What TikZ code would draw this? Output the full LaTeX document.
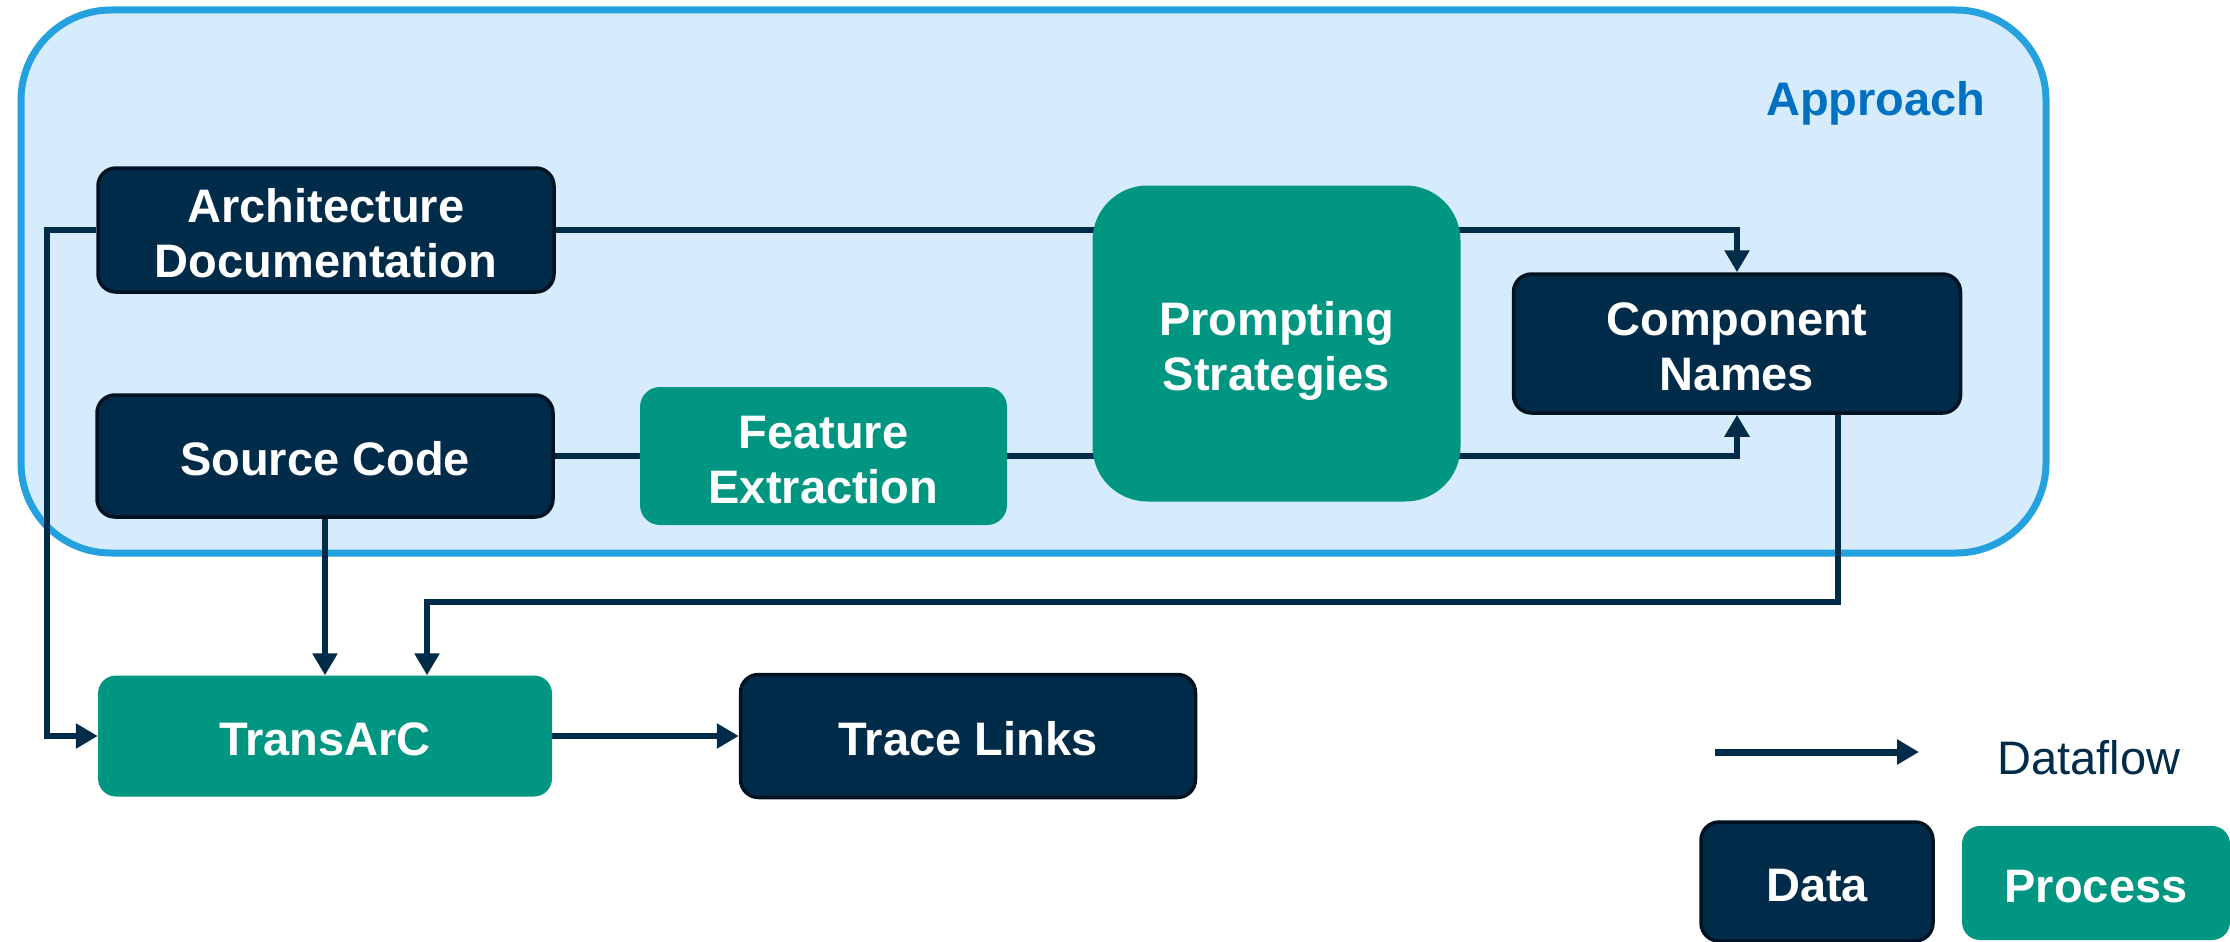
\documentclass[tikz,border=0pt]{standalone}
\usepackage{fontspec}
\setmainfont{Liberation Sans}
\usetikzlibrary{arrows.meta}
\definecolor{navy}{RGB}{0,43,73}
\definecolor{navyedge}{RGB}{2,18,33}
\definecolor{kitgreen}{RGB}{0,150,130}
\definecolor{apfill}{RGB}{214,236,253}
\definecolor{apedge}{RGB}{38,161,224}
\definecolor{apblue}{RGB}{0,112,192}
\pgfdeclarelayer{bg}
\pgfdeclarelayer{lines}
\pgfsetlayers{bg,lines,main}
\begin{document}
\begin{tikzpicture}[x=1pt,y=-1pt,
 box/.style={rectangle, rounded corners=18pt, inner sep=0pt, align=center, text=white, font=\fontsize{47}{55}\selectfont\bfseries, text depth=0pt},
 oneline/.style={text height=39pt},
 twoline/.style={text height=94pt},
 databox/.style={box, fill=navy, draw=navyedge, line width=3.5pt},
 procbox/.style={box, fill=kitgreen},
 flow/.style={draw=navy, line width=6pt},
 arr/.style={flow, -{Triangle[length=22pt,width=24pt]}},
 approachbox/.style={rectangle, rounded corners=90pt, fill=apfill, draw=apedge, line width=7pt, inner sep=0pt},
]
\useasboundingbox (0,0) rectangle (2230,942);

\begin{pgfonlayer}{bg}
\node[approachbox, minimum width=2025pt, minimum height=543pt] (appr) at (1033.5,281.5) {};
\end{pgfonlayer}
\node[anchor=base, text=apblue, font=\fontsize{47}{55}\selectfont\bfseries] (apprlabel) at (1876,115) {Approach};

\node[databox, twoline, minimum width=456pt, minimum height=124pt] (ad) at (326,230) {Architecture\\Documentation};
\node[databox, oneline, minimum width=456pt, minimum height=122pt] (sc) at (325,456) {Source Code};
\node[procbox, twoline, rounded corners=20pt, minimum width=367pt, minimum height=138pt] (fe) at (823.5,456) {Feature\\Extraction};
\node[procbox, twoline, rounded corners=55pt, minimum width=368pt, minimum height=316pt] (ps) at (1276.5,343.5) {Prompting\\Strategies};
\node[databox, twoline, minimum width=447pt, minimum height=139pt] (cn) at (1737,343.5) {Component\\Names};
\node[procbox, oneline, minimum width=454pt, minimum height=121pt] (tr) at (325,736) {TransArC};
\node[databox, oneline, minimum width=455pt, minimum height=123pt] (tl) at (968,736) {Trace Links};

\begin{pgfonlayer}{lines}
\draw[arr] (ad.east) -| (cn.north);
\draw[flow] (sc.east) -- (fe.west);
\draw[arr] (fe.east) -| (cn.south);
\draw[arr] (sc.south) -- (tr.north);
\draw[arr] (ad.west) -- ++(-49,0) |- (tr.west);
\draw[arr] ([xshift=101pt]cn.south) -- ++(0,187) -| ([xshift=102pt]tr.north);
\draw[arr] (tr.east) -- (tl.west);
\end{pgfonlayer}

% legend
\coordinate (la) at (1715,752);
\coordinate (lb) at (1919,752);
\draw[arr, line width=7pt] (la) -- (lb);
\node[anchor=base, text=navy, font=\fontsize{47}{55}\selectfont] (lflow) at (2089,774) {Dataflow};
\node[databox, oneline, minimum width=232pt, minimum height=119pt] (ldata) at (1817,881.5) {Data};
\node[procbox, oneline, minimum width=268pt, minimum height=114pt] (lproc) at (2096,883) {Process};
\end{tikzpicture}
\end{document}
